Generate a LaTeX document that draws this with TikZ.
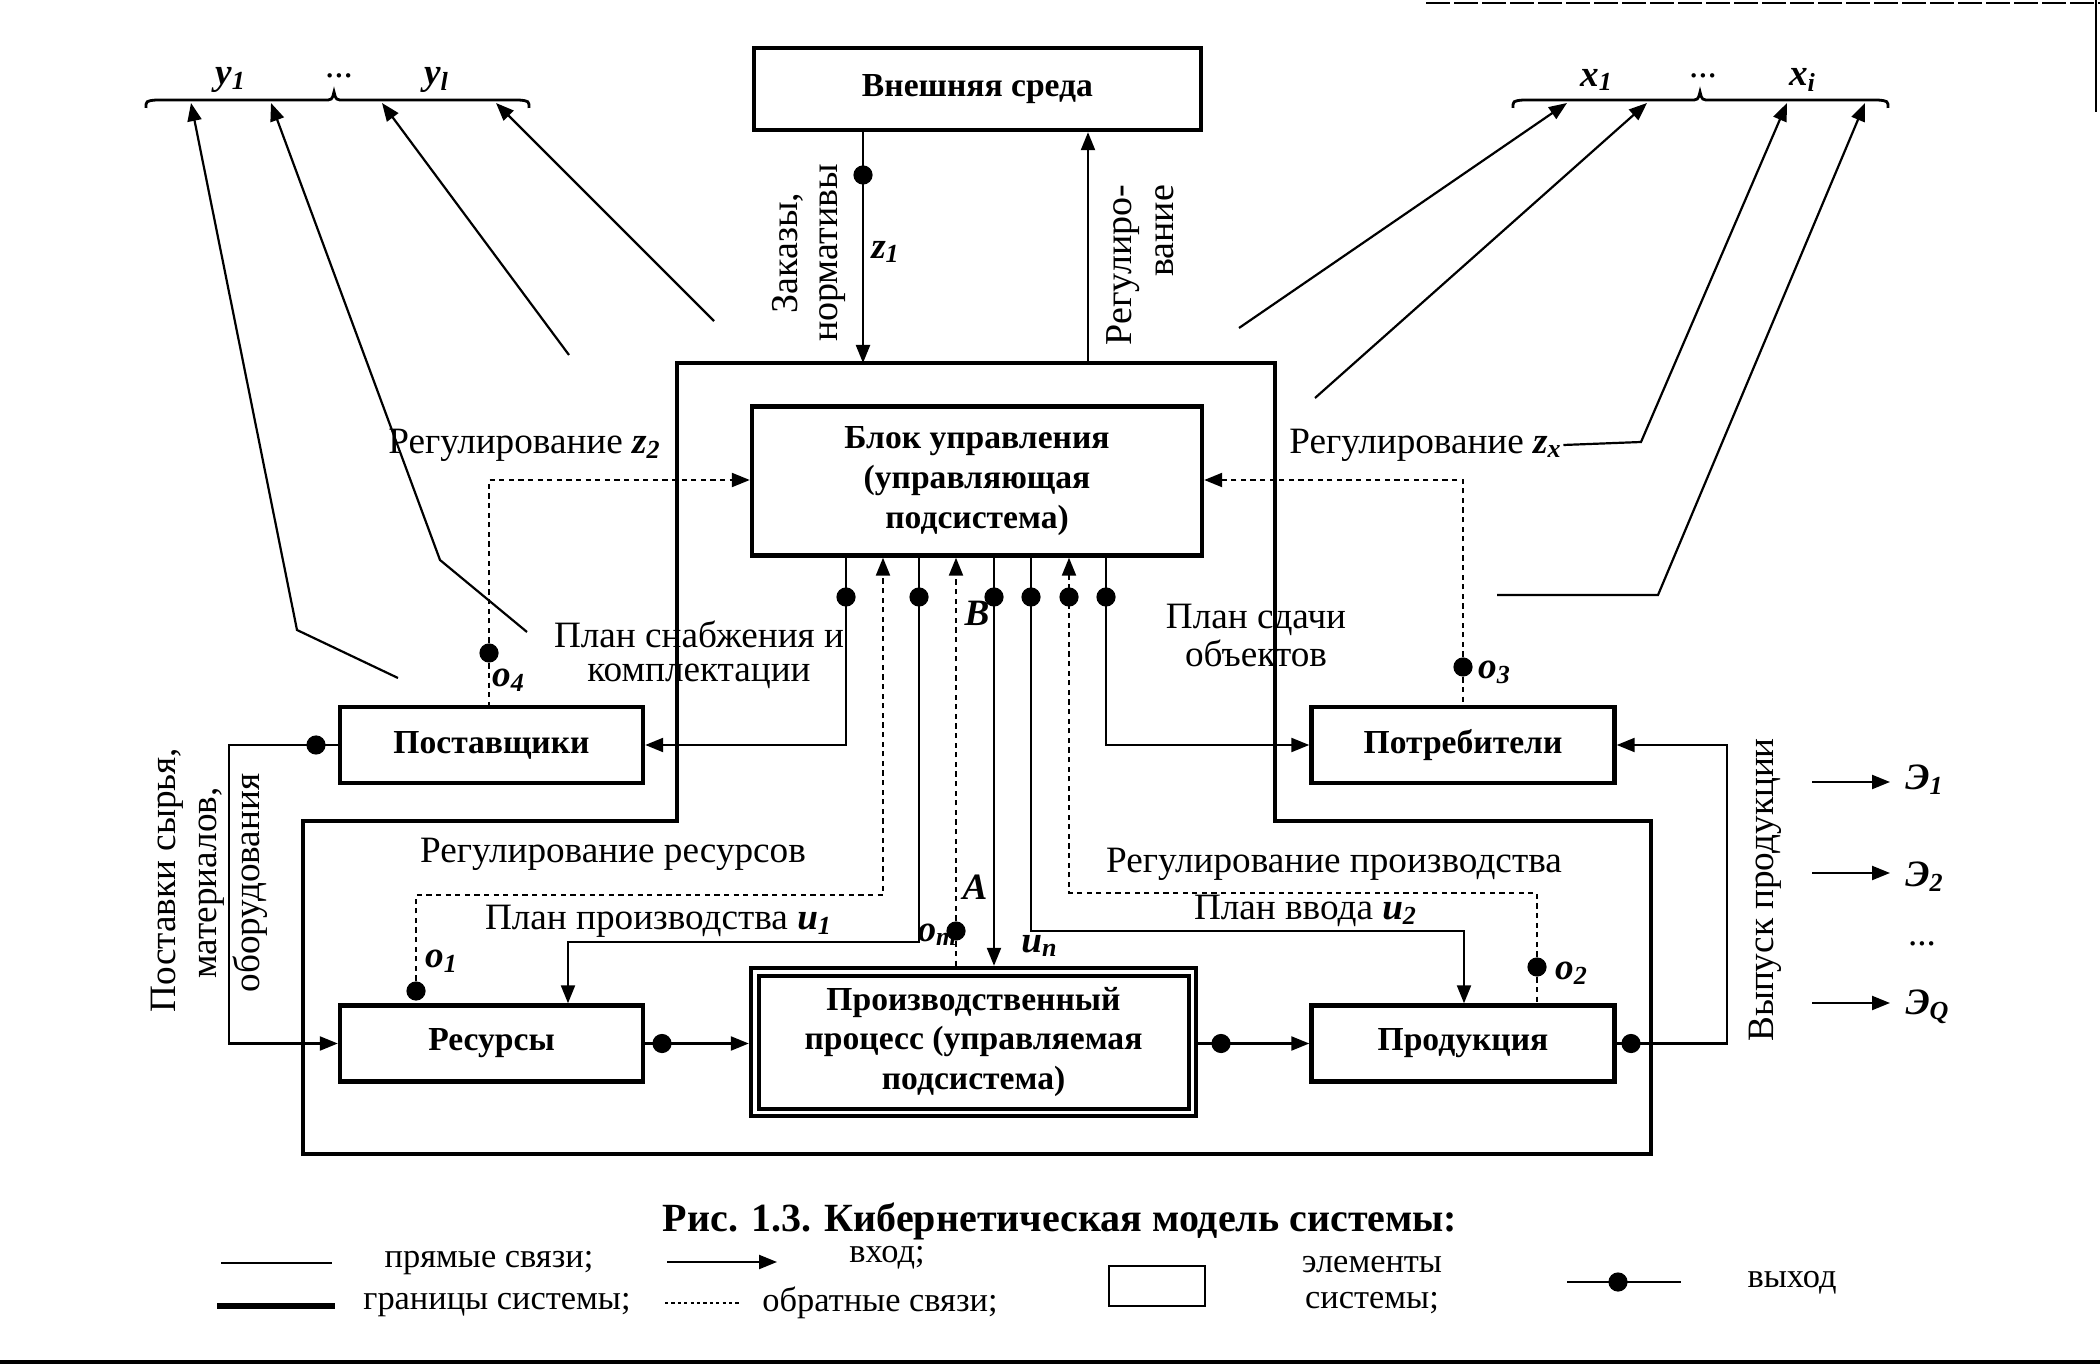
\documentclass[tikz,border=0pt]{standalone}
\usepackage{fontspec}
\setmainfont{Liberation Serif}
\usetikzlibrary{arrows.meta,calc}
\newcommand\vv[2]{\textbf{\textit{#1}}\textsubscript{\textbf{\textit{#2}}}}
\begin{document}
\begin{tikzpicture}[x=0.25pt,y=-0.25pt,
  box/.style={draw, line width=1.1pt, minimum width=75.75pt, minimum height=19pt, inner sep=0pt, align=center, font=\fontsize{8.4}{9.9}\selectfont\bfseries},
  ln/.style={line width=0.55pt},
  arr/.style={ln, -{Triangle[length=4.5pt,width=3.5pt]}},
  fb/.style={line width=0.55pt, dash pattern=on 1.3pt off 1.1pt},
  fbarr/.style={fb, -{Triangle[length=4.5pt,width=3.5pt]}},
  dot/.style={circle, fill, inner sep=0pt, minimum size=4.8pt},
  lbl/.style={inner sep=0pt, align=center, font=\fontsize{9.3}{9.6}\selectfont},
  lgd/.style={inner sep=0pt, align=center, font=\fontsize{8.6}{9}\selectfont},
  bound/.style={line width=1.2pt},
]
\useasboundingbox (0,0) rectangle (2100,1368);
% scan borders
\draw[line width=0.8pt] (0,1362) -- (2100,1362);
\draw[line width=0.5pt, dash pattern=on 6pt off 1pt] (1426,3) -- (2100,3);
\draw[line width=0.6pt] (2096,0) -- (2096,112);

% boxes
\node[box, minimum width=111.75pt, minimum height=20.5pt] (env) at (977.5,89) {Внешняя среда};
\node[box, minimum width=112.5pt, minimum height=37.25pt] (ctrl) at (977,481) {Блок управления\\(управляющая\\подсистема)};
\node[box] (sup) at (491.5,745) {Поставщики};
\node[box] (cons) at (1463,745) {Потребители};
\node[box] (res) at (491.5,1043.5) {Ресурсы};
\node[box] (prod) at (1463,1043.5) {Продукция};
\node[box, minimum width=111.25pt, minimum height=37pt] (proc) at (973.5,1042) {Производственный\\процесс (управляемая\\подсистема)};
\draw[line width=0.9pt] ([shift={(10,10)}]proc.north west) rectangle ([shift={(-9,-9)}]proc.south east);

% system boundary
\draw[bound] (677,363) -- (1275,363) -- (1275,821) -- (1651,821) -- (1651,1154) -- (303,1154) -- (303,821) -- (677,821) -- cycle;

% environment links
\coordinate (zA) at (863,363);
\coordinate (rA) at (1088,363);
\draw[arr] (env.south -| zA) -- (zA);
\node[dot] (dz1) at (863,175) {};
\draw[arr] (rA) -- (env.south -| rA);
\node[lbl, rotate=90, font=\fontsize{9.5}{10}\selectfont] (tzak) at (809,253) {Заказы,\\нормативы};
\node[lbl] (tz1) at (886,252) {\vv{z}{1}};
\node[lbl, rotate=90, align=right, font=\fontsize{9.5}{10.5}\selectfont] (treg) at (1140,265) {Регулиро-\\вание};

% control block outputs / inputs
\coordinate (k1) at (846,597);
\coordinate (k3) at (919,597);
\coordinate (k5) at (994,597);
\coordinate (k6) at (1031,597);
\coordinate (k7) at (1069,597);
\coordinate (k8) at (1106,597);
\coordinate (p1a) at (919,942);
\coordinate (p1b) at (568,942);
\coordinate (p2a) at (1031,931);
\coordinate (p2b) at (1464,931);
\draw[arr] (ctrl.south -| k1) -- (k1 |- sup.east) -- (sup.east);
\draw[arr] (ctrl.south -| k3) -- (p1a) -- (p1b) -- (p1b |- res.north);
\draw[arr] (ctrl.south -| k5) -- (k5 |- proc.north);
\draw[arr] (ctrl.south -| k6) -- (p2a) -- (p2b) -- (p2b |- prod.north);
\draw[arr] (ctrl.south -| k8) -- (k8 |- cons.west) -- (cons.west);
\node[dot] (dk1) at (k1) {};
\node[dot] (dk3) at (k3) {};
\node[dot] (dk5) at (k5) {};
\node[dot] (dk6) at (k6) {};
\node[dot] (dk7) at (k7) {};
\node[dot] (dk8) at (k8) {};

% feedback loops
\node[dot] (o1) at (416,991) {};
\coordinate (f1a) at (416,895);
\coordinate (f1b) at (883,895);
\draw[fbarr] (o1) -- (f1a) -- (f1b) -- (ctrl.south -| f1b);
\node[dot] (om) at (956,931) {};
\draw[fbarr] (om) -- (ctrl.south -| om);
\draw[fb] (om) -- (om |- proc.north);
\node[dot] (o2) at (1537,967) {};
\coordinate (f2a) at (1537,893);
\coordinate (f2b) at (1069,893);
\draw[fbarr] (o2) -- (f2a) -- (f2b) -- (ctrl.south -| f2b);
\draw[fb] (o2) -- (o2 |- prod.north);
\node[dot] (o4) at (489,653) {};
\coordinate (q4) at (489,480);
\draw[fbarr] (o4) -- (q4) -- (q4 -| ctrl.west);
\draw[fb] (o4) -- (o4 |- sup.north);
\node[dot] (o3) at (1463,667) {};
\coordinate (q3) at (1463,480);
\draw[fbarr] (o3) -- (q3) -- (q3 -| ctrl.east);
\draw[fb] (o3) -- (o3 |- cons.north);

% material flows
\node[dot] (dsup) at (316,745) {};
\coordinate (s1) at (229,745);
\draw[arr] (sup.west) -- (s1) -- (s1 |- res.west) -- (res.west);
\node[dot] (dres) at (662,1043.5) {};
\draw[arr] (res.east) -- (proc.west |- res.east);
\node[dot] (dproc) at (1221,1043.5) {};
\draw[arr] (proc.east |- prod.west) -- (prod.west);
\node[dot] (dprod) at (1631,1043.5) {};
\coordinate (v1) at (1727,1043.5);
\draw[arr] (prod.east) -- (v1) -- (v1 |- cons.east) -- (cons.east);

% effects
\coordinate (e1a) at (1812,782); \coordinate (e1b) at (1890,782);
\coordinate (e2a) at (1812,873); \coordinate (e2b) at (1890,873);
\coordinate (e3a) at (1812,1003); \coordinate (e3b) at (1890,1003);
\draw[arr] (e1a) -- (e1b);
\draw[arr] (e2a) -- (e2b);
\draw[arr] (e3a) -- (e3b);
\node[lbl] (te1) at (1925,780) {\vv{Э}{1}};
\node[lbl] (te2) at (1925,877) {\vv{Э}{2}};
\node[lbl] (te3) at (1922,944) {...};
\node[lbl] (te4) at (1928,1007) {\vv{Э}{Q}};
\node[lbl, rotate=90] (tvyp) at (1765,890) {Выпуск продукции};

% labels
\node[lbl] (tz2) at (525,445) {Регулирование \vv{z}{2}};
\node[lbl] (tzx) at (1426,445) {Регулирование \vv{z}{x}};
\node[lbl, font=\fontsize{9.3}{8.6}\selectfont] (tsn) at (699,655) {План снабжения и\\комплектации};
\node[lbl, font=\fontsize{9.3}{9.5}\selectfont] (tsd) at (1256,636) {План сдачи\\объектов};
\node[lbl] (trr) at (613,854) {Регулирование ресурсов};
\node[lbl] (tpp) at (659,921) {План производства \vv{u}{1}};
\node[lbl] (trp) at (1334,864) {Регулирование производства};
\node[lbl] (tpv) at (1306,911) {План ввода \vv{u}{2}};
\node[lbl] (lo1) at (442,961) {\vv{o}{1}};
\node[lbl] (lo2) at (1572,973) {\vv{o}{2}};
\node[lbl] (lo3) at (1495,672) {\vv{o}{3}};
\node[lbl] (lo4) at (509,680) {\vv{o}{4}};
\node[lbl] (lom) at (938,935) {\vv{o}{m}};
\node[lbl] (lA) at (975,887) {\textbf{\textit{A}}};
\node[lbl] (lB) at (977,613) {\textbf{\textit{B}}};
\node[lbl] (lun) at (1040,946) {\vv{u}{n}};
\node[lbl, rotate=90] (tpost1) at (167,880) {Поставки сырья,};
\node[lbl, rotate=90] (tpost2) at (212,883) {материалов,};
\node[lbl, rotate=90] (tpost3) at (250,883) {оборудования};

% braces
\draw[line width=0.7pt] (146,108) .. controls (146,101) .. (156,100) -- (324,100) .. controls (332,100) .. (334,92) .. controls (336,100) .. (344,100) -- (519,100) .. controls (529,101) .. (529,108);
\draw[line width=0.7pt] (1513,108) .. controls (1513,101) .. (1523,100) -- (1690,100) .. controls (1698,100) .. (1700,92) .. controls (1702,100) .. (1710,100) -- (1878,100) .. controls (1888,101) .. (1888,108);
\node[lbl] (ty1) at (231,80) {\vv{y}{1}};
\node[lbl] (tyd) at (339,76) {...};
\node[lbl] (tyl) at (437,80) {\vv{y}{l}};
\node[lbl] (tx1) at (1597,80) {\vv{x}{1}};
\node[lbl] (txd) at (1703,76) {...};
\node[lbl] (txi) at (1803,80) {\vv{x}{i}};

% lines to outputs / inputs of the environment
\coordinate (a1) at (398,678); \coordinate (a1b) at (297,630); \coordinate (a1c) at (191,103);
\coordinate (a2) at (527,632); \coordinate (a2b) at (440,560); \coordinate (a2c) at (271,103);
\coordinate (a3) at (569,355); \coordinate (a3c) at (382,103);
\coordinate (a4) at (714,321); \coordinate (a4c) at (496,103);
\draw[arr] (a1) -- (a1b) -- (a1c);
\draw[arr] (a2) -- (a2b) -- (a2c);
\draw[arr] (a3) -- (a3c);
\draw[arr] (a4) -- (a4c);
\coordinate (b1) at (1239,328); \coordinate (b1c) at (1567,103);
\coordinate (b2) at (1315,398); \coordinate (b2c) at (1647,103);
\coordinate (b3b) at (1641,442); \coordinate (b3c) at (1787,103);
\coordinate (b4) at (1497,595); \coordinate (b4b) at (1658,595); \coordinate (b4c) at (1865,103);
\draw[arr] (b1) -- (b1c);
\draw[arr] (b2) -- (b2c);
\draw[arr] (tzx.east) -- (b3b) -- (b3c);
\draw[arr] (b4) -- (b4b) -- (b4c);

% caption
\node[inner sep=0pt, font=\fontsize{10}{12}\selectfont\bfseries] (cap) at (1060,1221) {Рис. 1.3. Кибернетическая модель системы:};

% legend
\coordinate (g1a) at (221,1263); \coordinate (g1b) at (332,1263);
\draw[ln] (g1a) -- (g1b);
\node[lgd] (tg1) at (489,1263) {прямые связи;};
\coordinate (g2a) at (217,1306); \coordinate (g2b) at (335,1306);
\draw[line width=1.3pt] (g2a) -- (g2b);
\node[lgd] (tg2) at (497,1305) {границы системы;};
\coordinate (g3a) at (667,1262); \coordinate (g3b) at (777,1262);
\draw[arr] (g3a) -- (g3b);
\node[lgd] (tg3) at (887,1258) {вход;};
\coordinate (g4a) at (665,1303); \coordinate (g4b) at (741,1303);
\draw[line width=0.4pt, dash pattern=on 0.8pt off 0.8pt] (g4a) -- (g4b);
\node[lgd] (tg4) at (880,1303) {обратные связи;};
\draw[line width=0.6pt] (1109,1266) rectangle (1205,1306);
\node[lgd] (tg5) at (1372,1265) {элементы};
\node[lgd] (tg6) at (1372,1303) {системы;};
\coordinate (g7a) at (1567,1282); \coordinate (g7b) at (1681,1282);
\draw[ln] (g7a) -- (g7b);
\node[dot] (g7d) at (1618,1282) {};
\node[lgd] (tg7) at (1792,1283) {выход};
\end{tikzpicture}
\end{document}
